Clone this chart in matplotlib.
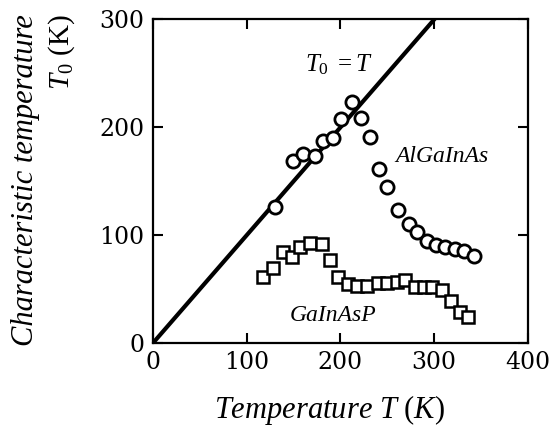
import matplotlib.pyplot as plt

# AlGaInAs (circles)
t_al = [130, 149, 160, 173, 181, 192, 201, 212, 222, 232, 241, 250, 261,
        273, 282, 292, 302, 312, 322, 332, 342]
t0_al = [126, 169, 175, 173, 187, 190, 208, 223, 209, 191, 161, 145, 123,
         110, 103, 95, 91, 89, 87, 85, 81]

# GaInAsP (squares)
t_ga = [117, 128, 139, 148, 157, 168, 180, 189, 197, 208, 218, 228, 240,
        250, 260, 269, 279, 289, 298, 308, 318, 328, 336]
t0_ga = [61, 70, 84, 80, 89, 93, 92, 77, 61, 55, 53, 53, 56,
         56, 57, 58, 52, 52, 52, 49, 39, 29, 24]

line_t = [0, 300]

plt.rcParams['font.family'] = 'Liberation Serif'
plt.rcParams['mathtext.fontset'] = 'custom'
plt.rcParams['mathtext.it'] = 'Liberation Serif:italic'
plt.rcParams['mathtext.rm'] = 'Liberation Serif'

fig = plt.figure(figsize=(5.53, 4.28), dpi=100)
ax = fig.add_axes([0.2767, 0.1986, 0.678, 0.756])

ax.plot(line_t, line_t, color='black', lw=3, zorder=2)
ax.plot(t_al, t0_al, 'o', ms=9.5, mfc='white', mec='black', mew=2, zorder=3)
ax.plot(t_ga, t0_ga, 's', ms=8, mfc='white', mec='black', mew=1.8, zorder=3)

ax.set_xlim(0, 400)
ax.set_ylim(0, 300)
ax.set_xticks([0, 100, 200, 300, 400])
ax.set_yticks([0, 100, 200, 300])
ax.tick_params(direction='in', length=7, width=1.5, top=True, right=True,
               labelsize=17, pad=6)
for lab in ax.get_xticklabels() + ax.get_yticklabels():
    lab.set_family('DejaVu Serif')
for s in ax.spines.values():
    s.set_linewidth(1.6)

ax.text(162, 252, r'$T_0\ =T$', fontsize=18, style='italic')
ax.text(258, 168, 'AlGaInAs', fontsize=17, style='italic')
ax.text(146, 20, 'GaInAsP', fontsize=17, style='italic')

fig.text(330 / 553, 1 - 427 / 428, r'Temperature $T$ $(K)$',
         fontsize=22, style='italic', ha='center', va='bottom')
fig.text(26 / 553, 1 - 14 / 428, 'Characteristic temperature', fontsize=22,
         style='italic', rotation=90, ha='center', va='top')
fig.text(62 / 553, 1 - 14 / 428, r'$T_0$ (K)', fontsize=21,
         rotation=90, ha='center', va='top')

fig.savefig('out.png', dpi=100)
